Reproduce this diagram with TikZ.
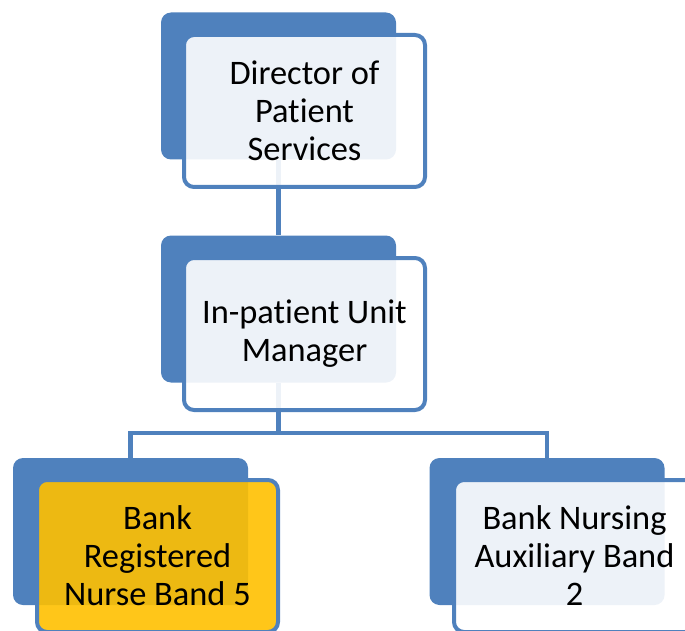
\documentclass[tikz,border=0pt]{standalone}
\usepackage{fontspec}
\setmainfont{Carlito}[Ligatures=NoCommon]
\usepackage{tikz}

\definecolor{boxblue}{HTML}{4F81BD}
\definecolor{bankgold}{HTML}{FFC000}

\tikzset{
    backbox/.style={fill=boxblue, rounded corners=7.5pt, inner sep=0pt,
        minimum width=176.25pt, minimum height=110.25pt},
    frontbox/.style={draw=boxblue, line width=3pt, fill=white, fill opacity=0.9,
        text opacity=1, rounded corners=7.5pt, inner sep=0pt, align=center,
        minimum width=180.75pt, minimum height=114pt,
        font=\fontsize{25.8}{28.5}\selectfont},
    link/.style={draw=boxblue, line width=3.5pt}
}

\begin{document}
\begin{tikzpicture}[x=0.75pt,y=-0.75pt]
        \useasboundingbox (0,0) rectangle (685,631);

        % back panels
        \node[backbox] (dirB) at (278.5,86) {};
        \node[backbox] (mgrB) at (278.5,309) {};
        \node[backbox] (nurseB) at (130.5,531.5) {};
        \node[backbox] (auxB) at (547,531.5) {};

        % connectors
        \coordinate (split) at (278.5,433);
        \draw[link] (dirB.south) -- (mgrB.north);
        \draw[link] (mgrB.south) -- (split) -| (nurseB.north);
        \draw[link] (split) -| (auxB.north);

        % front panels
        \node[frontbox] (dir) at (304.5,111) {Director of\\Patient\\Services};
        \node[frontbox] (mgr) at (304.5,334) {In-patient Unit\\Manager};
        \node[frontbox, fill=bankgold] (nurse) at (157.5,556) {Bank\\Registered\\Nurse Band 5};
        \node[frontbox] (aux) at (574.5,556) {Bank Nursing\\Auxiliary Band\\2};
    \end{tikzpicture}
\end{document}
